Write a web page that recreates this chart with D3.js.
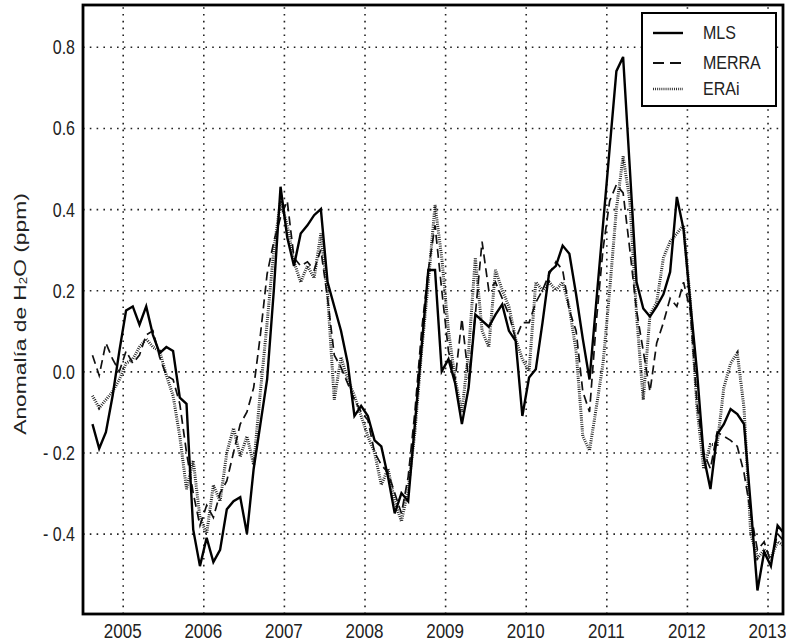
<!DOCTYPE html>
<html><head><meta charset="utf-8">
<script src="https://cdn.jsdelivr.net/npm/d3@7"></script>
<style>html,body{margin:0;padding:0;background:#fff;}svg{display:block;}</style>
</head><body>
<svg id="c" width="786" height="643"></svg>
<script>
// ---------- DATA (monthly anomalies, Aug 2004 .. Mar 2013) ----------
const startMonth = [2004, 7]; // Aug 2004 (0-based month)
const endMonth = [2013, 2];   // Mar 2013
const yearTicks = [2005, 2006, 2007, 2008, 2009, 2010, 2011, 2012, 2013];
const yTicks = [-0.4, -0.2, 0.0, 0.2, 0.4, 0.6, 0.8];
const yTickLabels = ["- 0.4", "- 0.2", "0.0", "0.2", "0.4", "0.6", "0.8"];
const seriesNames = ["MLS", "MERRA", "ERAi"];

const mls = [-0.13,-0.19,-0.15,-0.06,0.05,
 0.15,0.16,0.115,0.16,0.09,0.045,0.06,0.05,-0.065,-0.08,-0.39,-0.48,
 -0.41,-0.47,-0.44,-0.34,-0.32,-0.31,-0.40,-0.24,-0.13,-0.02,0.20,0.455,
 0.33,0.26,0.34,0.36,0.385,0.40,0.22,0.16,0.10,0.02,-0.11,-0.085,
 -0.11,-0.17,-0.185,-0.26,-0.35,-0.30,-0.32,-0.13,0.06,0.25,0.25,0.0,
 0.03,-0.03,-0.13,-0.04,0.14,0.125,0.11,0.14,0.165,0.10,0.075,-0.11,
 -0.015,0.005,0.12,0.245,0.26,0.31,0.29,0.19,0.08,-0.02,0.17,0.36,
 0.55,0.74,0.775,0.50,0.22,0.155,0.135,0.16,0.19,0.245,0.43,0.35,
 0.17,0.0,-0.21,-0.29,-0.155,-0.13,-0.093,-0.105,-0.13,-0.33,-0.54,-0.445,
 -0.48,-0.38,-0.40];

const merra = [0.04,-0.01,0.07,0.03,0.0,
 0.05,0.02,0.04,0.09,0.10,0.035,-0.01,-0.02,-0.08,-0.20,-0.30,-0.38,
 -0.33,-0.36,-0.30,-0.27,-0.20,-0.13,-0.10,-0.04,0.09,0.24,0.32,0.38,
 0.42,0.28,0.26,0.27,0.25,0.30,0.18,0.04,0.01,-0.03,-0.07,-0.10,
 -0.12,-0.20,-0.23,-0.25,-0.30,-0.35,-0.26,-0.10,0.10,0.25,0.36,0.20,
 0.05,-0.02,0.13,-0.02,0.14,0.32,0.20,0.22,0.18,0.14,0.08,0.12,
 0.12,0.17,0.20,0.24,0.27,0.25,0.15,0.10,-0.05,-0.10,0.12,0.30,
 0.42,0.46,0.44,0.30,0.15,0.05,-0.05,0.07,0.12,0.18,0.16,0.22,
 0.15,-0.08,-0.20,-0.24,-0.15,-0.16,-0.17,-0.185,-0.25,-0.35,-0.44,-0.42,
 -0.47,-0.40,-0.42];

const erai = [-0.06,-0.09,-0.07,-0.05,-0.02,
 0.02,0.03,0.06,0.08,0.06,0.05,-0.01,-0.06,-0.16,-0.29,-0.22,-0.36,
 -0.40,-0.28,-0.32,-0.20,-0.14,-0.21,-0.16,-0.23,-0.05,0.12,0.30,0.42,
 0.36,0.27,0.22,0.26,0.23,0.34,0.19,-0.07,0.035,-0.02,-0.06,-0.11,
 -0.16,-0.20,-0.28,-0.24,-0.32,-0.37,-0.29,-0.15,0.05,0.22,0.41,0.28,
 0.10,-0.02,-0.10,0.05,0.28,0.10,0.06,0.25,0.20,0.16,0.08,0.03,
 0.0,0.22,0.20,0.22,0.20,0.22,0.157,0.05,-0.16,-0.195,-0.09,0.018,
 0.20,0.40,0.53,0.42,0.14,-0.07,0.14,0.17,0.28,0.32,0.34,0.36,
 0.175,-0.09,-0.24,-0.18,-0.18,-0.04,0.02,0.045,-0.09,-0.40,-0.46,-0.44,
 -0.46,-0.42,-0.43];

// ---------- BUILD ----------
const months = d3.timeMonth.range(new Date(startMonth[0], startMonth[1], 1),
                                  new Date(endMonth[0], endMonth[1] + 1, 1));
const tDec = months.map(d => d.getFullYear() + (d.getMonth() + 0.5) / 12);

const L = 83, R = 783, T = 5, B = 614;
const x = d3.scaleLinear().domain([2004.5075, 2013.192]).range([L, R]);
const y = d3.scaleLinear().domain([-0.598, 0.903]).range([B, T]);

const svg = d3.select("#c");
const font = "'Liberation Sans', Arial, Helvetica, sans-serif";

svg.append("defs").append("clipPath").attr("id", "clip")
  .append("rect").attr("x", L).attr("y", T).attr("width", R - L).attr("height", B - T);

// grid via axes
const gridX = d3.axisBottom(x).tickValues(yearTicks).tickSize(-(B - T)).tickFormat("");
const gx = svg.append("g").attr("transform", `translate(0,${B})`).call(gridX);
gx.select(".domain").remove();
gx.selectAll("line").attr("stroke", "#222").attr("stroke-width", 1.6)
  .attr("stroke-dasharray", "1.6,5.2");

const gridY = d3.axisLeft(y).tickValues(yTicks).tickSize(-(R - L)).tickFormat("");
const gy = svg.append("g").attr("transform", `translate(${L},0)`).call(gridY);
gy.select(".domain").remove();
gy.selectAll("line").attr("stroke", "#222").attr("stroke-width", 1.6)
  .attr("stroke-dasharray", "1.6,5.2");

// lines
const plot = svg.append("g").attr("clip-path", "url(#clip)");
const lineGen = vals => d3.line().x((d, i) => x(tDec[i])).y(d => y(d))(vals);

plot.append("path").attr("d", lineGen(erai)).attr("fill", "none")
  .attr("stroke", "#1a1a1a").attr("stroke-width", 3).attr("stroke-dasharray", "0.9,1.3");
plot.append("path").attr("d", lineGen(merra)).attr("fill", "none")
  .attr("stroke", "#111").attr("stroke-width", 1.7).attr("stroke-dasharray", "9,5");
plot.append("path").attr("d", lineGen(mls)).attr("fill", "none")
  .attr("stroke", "#000").attr("stroke-width", 2.4).attr("stroke-linejoin", "miter");

// frame
svg.append("rect").attr("x", L).attr("y", T).attr("width", R - L).attr("height", B - T)
  .attr("fill", "none").attr("stroke", "#000").attr("stroke-width", 2.8);

// y tick labels
yTicks.forEach((v, i) => {
  svg.append("g").attr("transform", `translate(75,${y(v)}) scale(1,1.3)`)
    .append("text").attr("text-anchor", "end").attr("dy", "0.36em")
    .attr("font-family", font).attr("font-size", 16).attr("fill", "#222")
    .text(yTickLabels[i]);
});

// x tick labels
yearTicks.forEach(yr => {
  svg.append("g").attr("transform", `translate(${x(yr)},638) scale(1,1.17)`)
    .append("text").attr("text-anchor", "middle")
    .attr("font-family", font).attr("font-size", 17).attr("fill", "#222")
    .text(yr);
});

// y axis title
const yt = svg.append("g").attr("transform", "translate(25.5,314) rotate(-90) scale(1.34,1)")
  .append("text").attr("text-anchor", "middle")
  .attr("font-family", font).attr("font-size", 17).attr("fill", "#222");
yt.append("tspan").text("Anomalía de H");
yt.append("tspan").attr("font-size", 10).attr("dy", 1.5).text("2");
yt.append("tspan").attr("dy", -1.5).text("O (ppm)");

// legend
const lg = svg.append("g");
lg.append("rect").attr("x", 642).attr("y", 13).attr("width", 134).attr("height", 93)
  .attr("fill", "#fff").attr("stroke", "#000").attr("stroke-width", 2);
const legY = [33, 63, 89];
const legStyles = [
  {w: 2.4, dash: null, c: "#000"},
  {w: 1.9, dash: "11,6", c: "#111"},
  {w: 2.4, dash: "0.9,1.2", c: "#222"}
];
seriesNames.forEach((n, i) => {
  const st = legStyles[i];
  const ln = lg.append("line").attr("x1", 653).attr("x2", 683)
    .attr("y1", legY[i]).attr("y2", legY[i])
    .attr("stroke", st.c).attr("stroke-width", st.w);
  if (st.dash) ln.attr("stroke-dasharray", st.dash);
  lg.append("g").attr("transform", `translate(703,${legY[i] + 6}) scale(1,1.17)`)
    .append("text").attr("font-family", font).attr("font-size", 16).attr("fill", "#222")
    .text(n);
});
</script>
</body></html>
